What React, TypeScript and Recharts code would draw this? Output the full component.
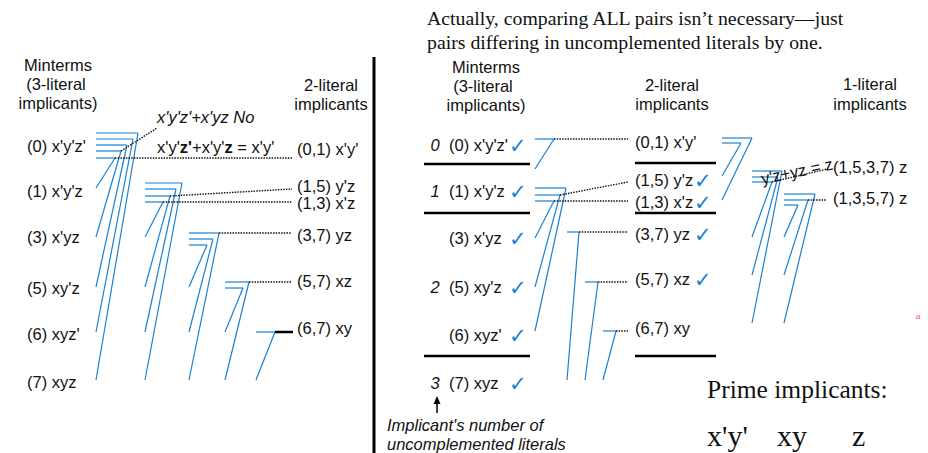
import React from "react";
import { ComposedChart, XAxis, YAxis, Scatter, ReferenceLine } from "recharts";

const BLUE = "#1a80d4";
const SANS = "'Liberation Sans', Arial, sans-serif";
const SERIF = "'Liberation Serif', 'Times New Roman', serif";

// ---- labels -------------------------------------------------------------
const minterms = ["(0) x'y'z'", "(1) x'y'z", "(3) x'yz", "(5) xy'z", "(6) xyz'", "(7) xyz"];
const pairs = ["(0,1) x'y'", "(1,5) y'z", "(1,3) x'z", "(3,7) yz", "(5,7) xz", "(6,7) xy"];
const quads = ["(1,5,3,7) z", "(1,3,5,7) z"];
const groupNums = ["0", "1", "2", "3"];
const primes = ["x'y'", "xy", "z"];

// left panel rows (y in picture units)
const leftMintermY = [146, 191, 237, 288, 334, 382];
const leftPairY = [149, 186, 203, 235, 281, 328];

// right panel rows
const rightMintermY = [145, 191, 238, 287, 335, 383];
const groupNumY = [145, 191, 287, 383];
const rightPairY = [142, 180, 202, 234, 279, 328];
const pairChecked = [false, true, true, true, true, false];
const quadY = [167, 198];
const primeX = [707, 777, 852];

const leftHeads = [
  { x: 58, y: 65, text: "Minterms" },
  { x: 56, y: 84, text: "(3-literal" },
  { x: 58, y: 103, text: "implicants)" },
  { x: 331, y: 85, text: "2-literal" },
  { x: 331, y: 104, text: "implicants" },
];
const rightHeads = [
  { x: 486, y: 67, text: "Minterms" },
  { x: 483, y: 86, text: "(3-literal" },
  { x: 486, y: 105, text: "implicants)" },
  { x: 672, y: 85, text: "2-literal" },
  { x: 672, y: 104, text: "implicants" },
  { x: 870, y: 84, text: "1-literal" },
  { x: 870, y: 104, text: "implicants" },
];
const titleLines = [
  { x: 427, y: 18, text: "Actually, comparing ALL pairs isn\u2019t necessary\u2014just" },
  { x: 427, y: 42, text: "pairs differing in uncomplemented literals by one." },
];
const noteLines = [
  { x: 387, y: 425, text: "Implicant's number of" },
  { x: 387, y: 444, text: "uncomplemented literals" },
];
const formulaNo = [{ x: 157, y: 117, text: "x'y'z'+x'yz  No" }];
const formulaYes = [{ x: 157, y: 147, text: "" }];
const formulaParts = [
  { t: "x'y'", b: false },
  { t: "z'", b: true },
  { t: "+x'y'", b: false },
  { t: "z", b: true },
  { t: " = x'y'", b: false },
];
const formulaZ = [{ x: 797, y: 171, text: "y'z+yz = z" }];
const primeTitle = [{ x: 707, y: 389, text: "Prime implicants:" }];
const stray = [{ x: 916, y: 316, text: "a" }];

// ---- combining connectors ("7" shapes) ----------------------------------
// x0: left end of bars & foot of diagonals; top: bar heights; right: bar ends; bottom: diagonal feet
const leftCombs = [
  { x0: 96, top: [133, 139, 145, 151, 158], right: [138, 133, 127, 121, 115], bottom: [380, 332, 287, 237, 188] },
  { x0: 145, top: [183, 189, 196, 202], right: [182, 176, 170, 163], bottom: [380, 332, 287, 237] },
  { x0: 189, top: [233, 239, 245], right: [219, 213, 207], bottom: [380, 332, 287] },
  { x0: 225, top: [282, 288], right: [249, 243], bottom: [380, 332] },
  { x0: 256, top: [332], right: [275], bottom: [380] },
];
const rightCombs = [
  { x0: 535, top: [139], right: [554], bottom: [169] },
  { x0: 535, top: [188, 195, 201], right: [566, 560, 554], bottom: [331, 287, 238] },
  { x0: 567, top: [232], right: [579], bottom: [380] },
  { x0: 585, top: [282], right: [598], bottom: [380] },
  { x0: 603, top: [331], right: [616], bottom: [380] },
];
const quadCombs = [
  { x0: 722, top: [138, 143], right: [752, 741], bottom: [200, 176] },
  { x0: 752, top: [171, 177, 182], right: [782, 778, 772], bottom: [323, 275, 237] },
  { x0: 784, top: [194, 200, 205], right: [815, 808, 798], bottom: [323, 275, 237] },
];

// dotted leader lines [x1, y1, x2, y2]
const dottedLinks = [
  [115, 158, 292, 158],
  [121, 151, 157, 128],
  [170, 196, 292, 189],
  [163, 202, 292, 202],
  [219, 233, 292, 233],
  [249, 282, 292, 282],
  [554, 139, 628, 139],
  [560, 195, 628, 182],
  [554, 201, 628, 201],
  [579, 232, 628, 232],
  [598, 282, 628, 282],
  [616, 331, 628, 331],
  [772, 182, 827, 169],
  [808, 200, 826, 200],
];
const solidLinks = [[275, 332, 293, 332]];
// black group rules [x1, x2, y]
const rules = [
  [424, 530, 164],
  [424, 530, 213],
  [424, 530, 356],
  [635, 716, 163],
  [635, 716, 213],
  [635, 716, 356],
];
const divider = [374, 57, 453];
const arrow = { x: 437, y1: 413, y2: 401 };

const pts = (texts: string[], xs: number | number[], ys: number | number[]) =>
  texts.map((t, i) => ({
    x: Array.isArray(xs) ? xs[i] : xs,
    y: Array.isArray(ys) ? ys[i] : ys,
    text: t,
  }));

const textShape = (style: any) => (p: any) => (
  <text x={p.cx} y={p.cy} dominantBaseline="central" {...style}>
    {p.payload.text}
  </text>
);

const sans = { fontFamily: SANS, fontSize: 16.5, fill: "#111" };

function combSegments(groups: typeof leftCombs) {
  const segs: { a: { x: number; y: number }; b: { x: number; y: number } }[] = [];
  groups.forEach((g) =>
    g.top.forEach((yt, i) => {
      segs.push({ a: { x: g.x0, y: yt }, b: { x: g.right[i], y: yt } });
      segs.push({ a: { x: g.right[i], y: yt }, b: { x: g.x0, y: g.bottom[i] } });
    })
  );
  return segs;
}

export default function App() {
  const blueSegs = [...combSegments(leftCombs), ...combSegments(rightCombs), ...combSegments(quadCombs)];
  const rightChecks = rightMintermY.map((y) => ({ x: 509, y: y + 1, text: "\u2713" }));
  const pairChecks = rightPairY.filter((_, i) => pairChecked[i]).map((y) => ({ x: 694, y: y + 1, text: "\u2713" }));

  return (
    <div style={{ position: "absolute", left: 0, top: 0, width: 928, height: 453, background: "#fff" }}>
      <ComposedChart width={928} height={453} margin={{ top: 0, right: 0, bottom: 0, left: 0 }}>
        <XAxis type="number" dataKey="x" domain={[0, 928]} allowDataOverflow hide />
        <YAxis type="number" dataKey="y" domain={[0, 453]} allowDataOverflow reversed hide />

        {blueSegs.map((s, i) => (
          <ReferenceLine key={"b" + i} segment={[s.a, s.b]} stroke={BLUE} strokeWidth={1.2} ifOverflow="visible" />
        ))}
        {dottedLinks.map((d, i) => (
          <ReferenceLine
            key={"d" + i}
            segment={[{ x: d[0], y: d[1] }, { x: d[2], y: d[3] }]}
            stroke="#111"
            strokeWidth={1.4}
            strokeDasharray="1.5 1.2"
            ifOverflow="visible"
          />
        ))}
        {solidLinks.map((d, i) => (
          <ReferenceLine key={"s" + i} segment={[{ x: d[0], y: d[1] }, { x: d[2], y: d[3] }]} stroke="#000" strokeWidth={2.5} ifOverflow="visible" />
        ))}
        {rules.map((r, i) => (
          <ReferenceLine key={"r" + i} segment={[{ x: r[0], y: r[2] }, { x: r[1], y: r[2] }]} stroke="#000" strokeWidth={2.5} ifOverflow="visible" />
        ))}
        <ReferenceLine segment={[{ x: divider[0], y: divider[1] }, { x: divider[0], y: divider[2] }]} stroke="#000" strokeWidth={3} ifOverflow="visible" />
        <ReferenceLine segment={[{ x: arrow.x, y: arrow.y1 }, { x: arrow.x, y: arrow.y2 }]} stroke="#000" strokeWidth={1.5} ifOverflow="visible" />
        <Scatter
          data={[{ x: arrow.x, y: arrow.y2 }]}
          isAnimationActive={false}
          shape={(p: any) => <path d={`M${p.cx},${p.cy - 5} L${p.cx - 3.5},${p.cy + 3} L${p.cx + 3.5},${p.cy + 3} Z`} fill="#000" />}
        />

        {/* sans labels */}
        <Scatter data={leftHeads} isAnimationActive={false} shape={textShape({ ...sans, textAnchor: "middle" })} />
        <Scatter data={rightHeads} isAnimationActive={false} shape={textShape({ ...sans, textAnchor: "middle" })} />
        <Scatter data={pts(minterms, 27, leftMintermY)} isAnimationActive={false} shape={textShape(sans)} />
        <Scatter data={pts(pairs, 297, leftPairY)} isAnimationActive={false} shape={textShape(sans)} />
        <Scatter data={pts(minterms, 449, rightMintermY)} isAnimationActive={false} shape={textShape(sans)} />
        <Scatter data={pts(pairs, 635, rightPairY)} isAnimationActive={false} shape={textShape(sans)} />
        <Scatter data={pts(quads, 833, quadY)} isAnimationActive={false} shape={textShape(sans)} />
        <Scatter
          data={pts(groupNums, 435, groupNumY)}
          isAnimationActive={false}
          shape={textShape({ ...sans, fontStyle: "italic", textAnchor: "middle" })}
        />
        <Scatter data={formulaNo} isAnimationActive={false} shape={textShape({ ...sans, fontStyle: "italic" })} />
        <Scatter
          data={formulaYes}
          isAnimationActive={false}
          shape={(p: any) => (
            <text x={p.cx} y={p.cy} dominantBaseline="central" {...sans}>
              {formulaParts.map((f, i) => (
                <tspan key={i} fontWeight={f.b ? "bold" : "normal"}>
                  {f.t}
                </tspan>
              ))}
            </text>
          )}
        />
        <Scatter
          data={formulaZ}
          isAnimationActive={false}
          shape={(p: any) => (
            <text
              x={p.cx}
              y={p.cy}
              dominantBaseline="central"
              textAnchor="middle"
              transform={`rotate(-12 ${p.cx} ${p.cy})`}
              {...sans}
            >
              {p.payload.text}
            </text>
          )}
        />
        <Scatter data={noteLines} isAnimationActive={false} shape={textShape({ ...sans, fontSize: 16.5, fontStyle: "italic" })} />

        {/* checks */}
        <Scatter
          data={[...rightChecks, ...pairChecks]}
          isAnimationActive={false}
          shape={textShape({ fontFamily: "'DejaVu Sans'", fontSize: 21, fontWeight: "bold", fill: BLUE })}
        />

        {/* serif text */}
        <Scatter data={titleLines} isAnimationActive={false} shape={textShape({ fontFamily: SERIF, fontSize: 19.8, fill: "#111" })} />
        <Scatter data={primeTitle} isAnimationActive={false} shape={textShape({ fontFamily: SERIF, fontSize: 25.5, fill: "#111" })} />
        <Scatter
          data={pts(primes, primeX, 435)}
          isAnimationActive={false}
          shape={textShape({ fontFamily: SERIF, fontSize: 30, fill: "#111" })}
        />
        <Scatter
          data={stray}
          isAnimationActive={false}
          shape={textShape({ fontFamily: SERIF, fontSize: 9, fontStyle: "italic", fill: "#f03c3c" })}
        />
      </ComposedChart>
    </div>
  );
}
